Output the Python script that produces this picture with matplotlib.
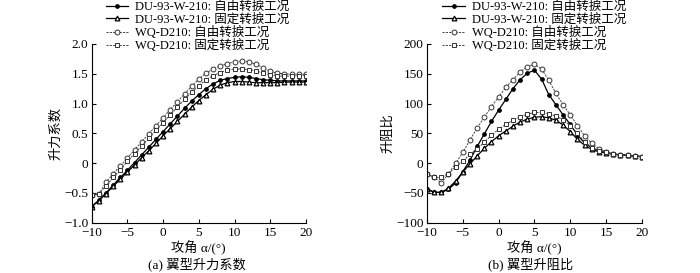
import matplotlib
matplotlib.use("Agg")
import matplotlib.pyplot as plt
import numpy as np

plt.rcParams['font.family'] = ['Liberation Serif', 'Noto Sans CJK SC']
plt.rcParams['axes.unicode_minus'] = True

alpha = list(range(-10, 21))

series_names = ["DU-93-W-210: 自由转捩工况", "DU-93-W-210: 固定转捩工况",
                "WQ-D210: 自由转捩工况", "WQ-D210: 固定转捩工况"]

# Lift coefficient
cl_du_free = [-0.73, -0.62, -0.50, -0.37, -0.24, -0.12, 0.01, 0.14, 0.27, 0.40, 0.53,
              0.66, 0.79, 0.92, 1.04, 1.15, 1.25, 1.33, 1.39, 1.42, 1.44,
              1.45, 1.44, 1.42, 1.40, 1.39, 1.38, 1.38, 1.38, 1.38, 1.38]
cl_du_fixed = [-0.73, -0.63, -0.51, -0.39, -0.27, -0.15, -0.03, 0.09, 0.21, 0.33, 0.46,
               0.58, 0.70, 0.82, 0.94, 1.05, 1.15, 1.24, 1.31, 1.35, 1.37,
               1.37, 1.36, 1.35, 1.35, 1.35, 1.35, 1.36, 1.36, 1.36, 1.36]
cl_wq_free = [-0.53, -0.52, -0.32, -0.18, -0.05, 0.09, 0.22, 0.36, 0.49, 0.63, 0.76,
              0.90, 1.03, 1.16, 1.29, 1.41, 1.51, 1.58, 1.63, 1.67, 1.70,
              1.71, 1.70, 1.66, 1.60, 1.54, 1.51, 1.50, 1.49, 1.49, 1.49]
cl_wq_fixed = [-0.53, -0.52, -0.38, -0.24, -0.11, 0.03, 0.16, 0.29, 0.42, 0.55, 0.68,
               0.81, 0.94, 1.07, 1.19, 1.30, 1.40, 1.47, 1.52, 1.56, 1.58,
               1.58, 1.57, 1.55, 1.51, 1.48, 1.46, 1.46, 1.46, 1.46, 1.47]

# Lift-drag ratio
ld_du_free = [-43, -49, -49, -44, -33, -14, 5, 28, 49, 70, 89,
              107, 125, 140, 151, 156, 141, 115, 98, 81, 65,
              47, 34, 26, 21, 18, 15, 14, 13, 12, 11]
ld_du_fixed = [-43, -49, -49, -42, -30, -15, -1, 12, 25, 36, 46,
               54, 62, 69, 74, 77, 78, 76, 72, 64, 53,
               40, 30, 23, 19, 17, 15, 14, 13, 12, 11]
ld_wq_free = [-18, -24, -33, -18, 0, 18, 39, 59, 77, 95, 111,
              127, 140, 153, 162, 166, 158, 139, 117, 98, 81,
              63, 46, 33, 24, 19, 16, 14, 13, 12, 11]
ld_wq_fixed = [-18, -24, -24, -18, -6, 3, 15, 24, 35, 47, 57,
               65, 72, 78, 82, 85, 85, 83, 79, 73, 63,
               50, 36, 26, 21, 18, 15, 14, 13, 12, 11]

styles = [
    dict(color='black', lw=0.9, ls='-', marker='o', ms=2.4, mfc='black', mec='black'),
    dict(color='black', lw=0.9, ls='-', marker='^', ms=3.4, mfc='white', mec='black', mew=0.9),
    dict(color='#444444', lw=0.7, ls=(0, (2.2, 1.2)), marker='o', ms=3.5, mfc='white', mec='#333333', mew=0.7),
    dict(color='#444444', lw=0.7, ls=(0, (2.2, 1.2)), marker='s', ms=3.3, mfc='white', mec='#333333', mew=0.7),
]

fig = plt.figure(figsize=(7.0, 2.73), dpi=100)
ax1 = fig.add_axes([0.131, 0.184, 0.306, 0.655])
ax2 = fig.add_axes([0.610, 0.184, 0.307, 0.655])

fs = 9.5
lfs = 9

def style_axes(ax, ylim, yticks, yticklabels):
    ax.set_xlim(-10, 20)
    ax.set_ylim(*ylim)
    ax.set_xticks([-10, -5, 0, 5, 10, 15, 20])
    ax.set_xticklabels(['−10', '−5', '0', '5', '10', '15', '20'])
    ax.set_yticks(yticks)
    ax.set_yticklabels(yticklabels)
    ax.spines['top'].set_visible(False)
    ax.spines['right'].set_visible(False)
    for s in ('left', 'bottom'):
        ax.spines[s].set_linewidth(0.8)
    ax.tick_params(direction='in', length=3, width=0.8, labelsize=fs)
    ax.tick_params(axis='x', pad=3)
    ax.tick_params(axis='y', pad=2.5)
    ax.set_xlabel('攻角 α/(°)', fontsize=fs, labelpad=1)

series1 = [cl_du_free, cl_du_fixed, cl_wq_free, cl_wq_fixed]
series2 = [ld_du_free, ld_du_fixed, ld_wq_free, ld_wq_fixed]

handles = []
for data, st, name in zip(series1, styles, series_names):
    h, = ax1.plot(alpha, data, label=name, **st)
    handles.append(h)
for data, st, name in zip(series2, styles, series_names):
    ax2.plot(alpha, data, label=name, **st)

style_axes(ax1, (-1.0, 2.0), [-1.0, -0.5, 0, 0.5, 1.0, 1.5, 2.0],
           ['−1.0', '−0.5', '0', '0.5', '1.0', '1.5', '2.0'])
style_axes(ax2, (-100, 200), [-100, -50, 0, 50, 100, 150, 200],
           ['−100', '−50', '0', '50', '100', '150', '200'])
ax1.set_ylabel('升力系数', fontsize=fs, labelpad=1)
ax2.set_ylabel('升阻比', fontsize=fs, labelpad=1)

leg_kw = dict(loc='upper left', fontsize=lfs, frameon=False,
              handletextpad=0.55, labelspacing=0.02, borderaxespad=0, borderpad=0)
fig.legend(handles=handles, bbox_to_anchor=(0.151, 0.997), handlelength=1.8, **leg_kw)
fig.legend(handles=handles, bbox_to_anchor=(0.631, 0.997), handlelength=1.9, **leg_kw)

fig.text(0.282, 0.005, '(a) 翼型升力系数', ha='center', va='bottom', fontsize=fs)
fig.text(0.758, 0.005, '(b) 翼型升阻比', ha='center', va='bottom', fontsize=fs)

fig.savefig('out.png', dpi=100)
